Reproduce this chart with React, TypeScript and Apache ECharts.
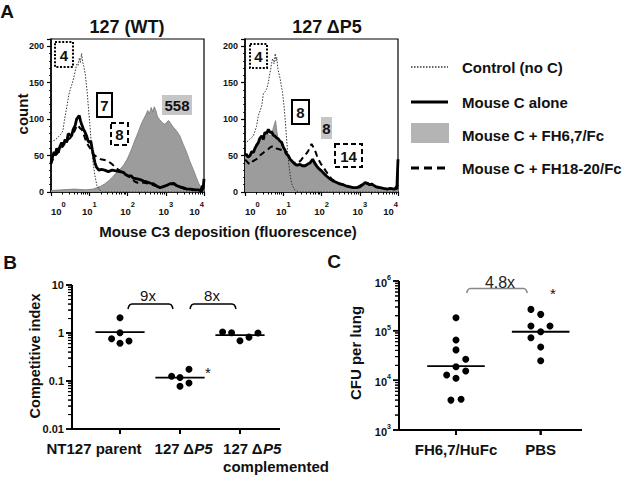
import React, { useEffect, useRef } from 'react';
import * as echarts from 'echarts';

const FONT = '"Liberation Sans", Arial, Helvetica, sans-serif';

// ---------- Panel A: flow histograms, [log10 fluorescence, count] ----------
const ctrlWT = [[0,68],[0.05,70],[0.12,72],[0.2,76],[0.27,80],[0.31,84],[0.35,98],[0.39,110],[0.43,122],[0.47,134],[0.51,142],[0.55,148],[0.6,158],[0.64,168],[0.68,176],[0.71,174],[0.74,184],[0.77,178],[0.8,190],[0.83,178],[0.86,172],[0.9,160],[0.94,140],[0.98,115],[1.02,90],[1.06,62],[1.1,40],[1.15,22],[1.2,9],[1.27,3],[1.35,0],[4,0]];
const aloneWT = [[0,40],[0.04,48],[0.08,55],[0.11,50],[0.15,60],[0.19,54],[0.23,62],[0.28,68],[0.32,64],[0.37,72],[0.41,68],[0.45,80],[0.5,78],[0.54,77],[0.58,86],[0.63,91],[0.67,100],[0.71,103],[0.74,105],[0.77,98],[0.8,93],[0.85,86],[0.89,82],[0.93,77],[0.97,70],[1.0,68],[1.04,70],[1.08,58],[1.11,50],[1.15,40],[1.19,34],[1.25,30],[1.32,31],[1.4,30],[1.5,28],[1.6,30],[1.7,29],[1.8,28],[1.89,27],[1.95,24],[2.02,22],[2.1,22],[2.15,19],[2.25,18],[2.33,17],[2.42,15],[2.5,14],[2.6,12],[2.68,11],[2.77,8],[2.85,6],[2.92,7],[3.02,9],[3.1,11],[3.2,12],[3.28,9],[3.37,7],[3.45,6],[3.55,4],[3.65,4],[3.75,3],[3.85,3],[3.94,1],[3.98,6],[4,18]];
const fh1820WT = [[0,38],[0.05,45],[0.1,50],[0.15,52],[0.2,55],[0.25,60],[0.3,62],[0.35,66],[0.4,68],[0.45,72],[0.5,74],[0.55,78],[0.6,82],[0.65,88],[0.7,92],[0.75,88],[0.8,86],[0.85,80],[0.9,72],[0.95,66],[1.0,62],[1.05,58],[1.1,52],[1.2,48],[1.3,45],[1.4,44],[1.5,42],[1.6,38],[1.7,33],[1.8,29],[1.9,26],[2.0,22],[2.1,19],[2.2,14],[2.3,12],[2.4,13],[2.5,12],[2.6,11],[2.7,9],[2.8,7],[2.9,7],[3.0,9],[3.1,10],[3.2,11],[3.3,8],[3.4,6],[3.5,4],[3.6,4],[3.7,3],[3.8,3],[3.9,2],[4,14]];
const fh67WT = [[0,2],[0.3,3],[0.6,4],[0.9,3],[1.1,4],[1.2,6],[1.3,8],[1.4,11],[1.5,15],[1.6,20],[1.7,26],[1.8,31],[1.9,37],[2.0,46],[2.1,58],[2.2,72],[2.28,82],[2.35,92],[2.42,100],[2.48,106],[2.53,112],[2.57,107],[2.62,116],[2.66,110],[2.7,117],[2.74,112],[2.78,104],[2.83,100],[2.88,97],[2.93,94],[2.98,93],[3.03,96],[3.08,98],[3.13,94],[3.2,89],[3.28,84],[3.37,77],[3.46,65],[3.55,54],[3.63,42],[3.72,31],[3.8,20],[3.86,12],[3.93,6],[4,4]];

const ctrlP5 = [[0,66],[0.03,68],[0.12,72],[0.22,77],[0.3,90],[0.35,105],[0.4,112],[0.44,119],[0.48,135],[0.53,138],[0.57,142],[0.61,150],[0.64,160],[0.67,168],[0.7,178],[0.72,183],[0.74,180],[0.76,176],[0.79,190],[0.81,180],[0.83,185],[0.86,169],[0.89,162],[0.92,155],[0.95,145],[0.98,137],[1.02,118],[1.05,100],[1.08,78],[1.11,58],[1.15,36],[1.19,20],[1.23,10],[1.3,3],[1.4,0],[4,0]];
const aloneP5 = [[0,50],[0.03,52],[0.08,48],[0.13,50],[0.18,56],[0.22,54],[0.26,60],[0.3,64],[0.35,68],[0.39,74],[0.44,77],[0.48,72],[0.52,82],[0.56,80],[0.61,86],[0.65,82],[0.7,82],[0.74,78],[0.78,77],[0.83,74],[0.87,73],[0.91,70],[0.96,68],[1.0,62],[1.05,57],[1.09,52],[1.13,50],[1.18,45],[1.22,43],[1.27,40],[1.31,38],[1.37,37],[1.44,38],[1.5,36],[1.57,36],[1.63,38],[1.7,40],[1.77,45],[1.82,40],[1.87,36],[1.93,32],[2.0,29],[2.07,25],[2.13,22],[2.22,18],[2.31,15],[2.4,13],[2.48,11],[2.57,10],[2.66,8],[2.75,7],[2.83,6],[2.92,6],[3.0,7],[3.08,10],[3.14,13],[3.2,12],[3.26,10],[3.31,11],[3.37,9],[3.44,7],[3.53,6],[3.62,5],[3.72,4],[3.8,5],[3.9,4],[3.97,5],[4,45]];
const fh67P5 = [[0,50],[0.05,47],[0.1,48],[0.15,52],[0.2,54],[0.25,57],[0.3,61],[0.35,65],[0.4,71],[0.45,73],[0.5,70],[0.55,77],[0.6,80],[0.65,77],[0.7,80],[0.75,90],[0.8,98],[0.83,84],[0.87,72],[0.92,68],[0.96,65],[1.0,60],[1.05,55],[1.1,50],[1.15,46],[1.2,42],[1.27,38],[1.35,35],[1.44,36],[1.5,34],[1.57,34],[1.63,36],[1.7,38],[1.77,41],[1.82,37],[1.9,30],[2.0,26],[2.1,20],[2.2,16],[2.31,13],[2.4,11],[2.5,9],[2.6,8],[2.7,6],[2.8,5],[2.9,5],[3.0,6],[3.08,9],[3.14,12],[3.2,11],[3.3,10],[3.4,7],[3.5,5],[3.6,4],[3.7,3],[3.8,4],[3.9,3],[4,4]];
const fh1820P5 = [[0,44],[0.03,43],[0.08,40],[0.13,38],[0.2,42],[0.3,45],[0.39,50],[0.48,54],[0.55,57],[0.61,59],[0.68,62],[0.74,63],[0.8,60],[0.87,59],[0.94,58],[1.0,57],[1.07,53],[1.13,50],[1.2,44],[1.26,40],[1.33,40],[1.39,40],[1.47,44],[1.55,50],[1.61,53],[1.66,57],[1.71,63],[1.74,66],[1.78,62],[1.83,57],[1.88,50],[1.92,45],[1.98,39],[2.05,34],[2.11,29],[2.18,24],[2.26,18],[2.35,15],[2.45,12],[2.55,10],[2.65,8],[2.75,7],[2.85,6],[2.95,7],[3.05,10],[3.12,12],[3.2,11],[3.3,10],[3.4,7],[3.5,6],[3.6,5],[3.7,4],[3.8,4],[3.9,4],[4,10]];

const panelATitles = ['127 (WT)', '127 \u0394P5'];
const legendNames = ['Control (no C)', 'Mouse C alone', 'Mouse C + FH6,7/Fc', 'Mouse C + FH18-20/Fc'];
// MFI boxes: [label, style]
const boxesWT = [['4', 'dotted'], ['7', 'solid'], ['558', 'gray'], ['8', 'dashed']];
const boxesP5 = [['4', 'dotted'], ['8', 'solid'], ['8', 'gray'], ['14', 'dashed']];

// ---------- Panel B: competitive index ----------
const bCategories = ['NT127 parent', '127 \u0394P5', '127 \u0394P5 complemented'];
const bParent = [2.07, 1.01, 0.76, 0.61, 0.68];
const bParentJitter = [0, 0, -0.14, 0, 0.15];
const bDelta = [0.126, 0.118, 0.176, 0.078, 0.091];
const bDeltaJitter = [-0.14, 0, 0.15, 0, 0.15];
const bComp = [1.05, 1.01, 0.69, 0.82, 1.0];
const bCompJitter = [-0.29, -0.14, 0, 0.15, 0.3];
const bMedians = [1.04, 0.118, 0.9];
const bFolds = ['9x', '8x'];

// ---------- Panel C: CFU per lung ----------
const cCategories = ['FH6,7/HuFc', 'PBS'];
const cFH = [182000, 65000, 41000, 26500, 18800, 12800, 15400, 11000, 4000, 4150];
const cFHJitter = [0, 0, 0, 0.115, 0, -0.11, 0.115, 0, -0.06, 0.06];
const cPBS = [268000, 213000, 124000, 124000, 95000, 72000, 47000, 24800];
const cPBSJitter = [-0.115, 0, -0.115, 0.11, 0, -0.115, 0, 0];
const cMedians = [19400, 95000];
const cFold = '4.8x';

const minorLog = (a: number, b: number) => {
  const out: number[] = [];
  for (let n = a; n < b; n++) for (let k = 2; k <= 9; k++) out.push(n + Math.log10(k));
  return out;
};
const majorLog = (a: number, b: number) => {
  const out: number[] = [];
  for (let n = a; n <= b; n++) out.push(n);
  return out;
};

const bracket = (x1: number, x2: number, top: number, end: number, dx: number, dy: number) => [
  [x1, end], [x1 + dx * 0.2, top - dy * 0.5], [x1 + dx * 0.5, top - dy * 0.15], [x1 + dx, top],
  [x2 - dx, top], [x2 - dx * 0.5, top - dy * 0.15], [x2 - dx * 0.2, top - dy * 0.5], [x2, end],
];

// Dot-plot frames: plot rects and axis extents
const frameB = { rect: [72, 285, 208, 144], x: [0.2, 3.667], y: [-2, 1], majors: majorLog(-2, 1), minors: minorLog(-2, 1), cats: [1, 2, 3] };
const frameC = { rect: [399, 281, 183, 149], x: [0.327, 2.488], y: [3, 6], majors: majorLog(3, 6), minors: minorLog(3, 6), cats: [1, 2] };
const PAD = 20;

function buildOption() {
  const bold = (size: number) => ({ fontFamily: FONT, fontWeight: 'bold' as const, fontSize: size, color: '#111' });
  const line = (w: number) => ({ show: true, onZero: false, lineStyle: { color: '#000', width: w } });

  const histGrid = (left: number) => ({ left, top: 39, width: 153, height: 153, show: true, borderColor: '#000', borderWidth: 1.2, backgroundColor: 'transparent' });

  const histX = (gi: number) => [
    {
      gridIndex: gi, type: 'value', min: 0, max: 4, interval: 1, position: 'bottom',
      axisLine: line(1.5),
      axisTick: { show: true, length: 4, lineStyle: { color: '#000', width: 1.2 } },
      splitLine: { show: false },
      axisLabel: {
        margin: 8, alignMinLabel: 'left', alignMaxLabel: 'right',
        formatter: (v: number) => `{b|10}{s|${Math.round(v)}}`,
        rich: {
          b: { ...bold(9.5), lineHeight: 16, verticalAlign: 'bottom' },
          s: { ...bold(7.5), lineHeight: 16, verticalAlign: 'top' },
        },
      },
    },
    {
      gridIndex: gi, type: 'value', min: 0, max: 4, position: 'bottom',
      axisLine: { show: false, onZero: false }, splitLine: { show: false }, axisLabel: { show: false },
      axisTick: { show: true, customValues: minorLog(0, 4), length: 2.5, lineStyle: { color: '#000', width: 1 } },
    },
  ];

  const histY = (gi: number) => ({
    gridIndex: gi, type: 'value', min: 0, max: 210, interval: 50,
    axisLine: line(1.5),
    axisTick: { show: true, length: 4, lineStyle: { color: '#000', width: 1.2 } },
    minorTick: { show: true, splitNumber: 5, length: 2, lineStyle: { color: '#000', width: 0.8 } },
    splitLine: { show: false },
    axisLabel: { ...bold(9), margin: 7, showMaxLabel: false },
  });

  const histSeries = (gi: number, gray: number[][], ctrl: number[][], dashed: number[][], solid: number[][]) => {
    const ax = { xAxisIndex: gi * 2, yAxisIndex: gi };
    return [
      { type: 'line', name: legendNames[2], ...ax, data: gray, symbol: 'none', lineStyle: { color: '#7a7a7a', width: 0.8 }, areaStyle: { color: '#9c9c9c', opacity: 1 }, z: 2 },
      { type: 'line', name: legendNames[0], ...ax, data: ctrl, symbol: 'none', lineStyle: { color: '#333', width: 1, type: [1.5, 1.5] }, z: 3 },
      { type: 'line', name: legendNames[3], ...ax, data: dashed, symbol: 'none', lineStyle: { color: '#000', width: 2, type: [6, 4] }, z: 4 },
      { type: 'line', name: legendNames[1], ...ax, data: solid, symbol: 'none', lineStyle: { color: '#000', width: 2.8 }, z: 5 },
    ];
  };

  const dot = { color: '#000', opacity: 1 };

  // B
  const bGroups = [[bParent, bParentJitter], [bDelta, bDeltaJitter], [bComp, bCompJitter]];
  const bSeries: any[] = [];
  bGroups.forEach(([vals, jit], i) => {
    const c = i + 1;
    bSeries.push({ type: 'scatter', xAxisIndex: 4, yAxisIndex: 2, symbolSize: 7, itemStyle: dot, data: (vals as number[]).map((v, j) => [c + (jit as number[])[j], Math.log10(v)]), z: 5 });
    bSeries.push({ type: 'line', xAxisIndex: 4, yAxisIndex: 2, symbol: 'none', lineStyle: { color: '#000', width: 1.8 }, data: [[c - 0.41, Math.log10(bMedians[i])], [c + 0.41, Math.log10(bMedians[i])]], z: 4 });
  });
  [[1.133, 1.883], [2.167, 2.933]].forEach(([x1, x2]) => {
    bSeries.push({ type: 'line', xAxisIndex: 4, yAxisIndex: 2, symbol: 'none', lineStyle: { color: '#000', width: 1.5 }, data: bracket(x1, x2, Math.log10(4), Math.log10(3.16), 0.06, 0.1), z: 4 });
  });

  // C
  const cGroups = [[cFH, cFHJitter], [cPBS, cPBSJitter]];
  const cSeries: any[] = [];
  cGroups.forEach(([vals, jit], i) => {
    const c = i + 1;
    cSeries.push({ type: 'scatter', xAxisIndex: 5, yAxisIndex: 4, symbolSize: 7, itemStyle: dot, data: (vals as number[]).map((v, j) => [c + (jit as number[])[j], Math.log10(v)]), z: 5 });
    cSeries.push({ type: 'line', xAxisIndex: 5, yAxisIndex: 4, symbol: 'none', lineStyle: { color: '#000', width: 1.8 }, data: [[c - 0.34, Math.log10(cMedians[i])], [c + 0.34, Math.log10(cMedians[i])]], z: 4 });
  });
  cSeries.push({ type: 'line', xAxisIndex: 5, yAxisIndex: 4, symbol: 'none', lineStyle: { color: '#888', width: 1.5 }, data: bracket(1.126, 1.842, 5.851, 5.757, 0.045, 0.095), z: 4 });

  // Frame grids: a padded copy of each dot-plot grid with the same scale, so the
  // axis frame and ticks lie inside its plotting area.
  const padded = (f: typeof frameB) => {
    const [gl, gt, gw, gh] = f.rect;
    const ux = (f.x[1] - f.x[0]) / gw;
    const uy = (f.y[1] - f.y[0]) / gh;
    return {
      grid: { left: gl - PAD, top: gt - PAD, width: gw + 2 * PAD, height: gh + 2 * PAD },
      xr: [f.x[0] - PAD * ux, f.x[1] + PAD * ux],
      yr: [f.y[0] - PAD * uy, f.y[1] + PAD * uy],
      ux, uy,
    };
  };
  const pB = padded(frameB);
  const pC = padded(frameC);
  const frameGridSeries = (f: typeof frameB, p: ReturnType<typeof padded>, xi: number, yi: number) => {
    const common = { type: 'line', xAxisIndex: xi, yAxisIndex: yi, symbol: 'none', silent: true, z: 6 };
    const segs = (pairs: number[][][]) => {
      const out: any[] = [];
      pairs.forEach((pp) => { out.push(pp[0], pp[1], '-'); });
      return out;
    };
    const x0 = f.x[0];
    const y0 = f.y[0];
    return [
      { ...common, lineStyle: { color: '#000', width: 2 }, data: [[x0, f.y[1]], [x0, y0], [f.x[1], y0]] },
      { ...common, lineStyle: { color: '#000', width: 1.5 }, data: segs(f.majors.map((v) => [[x0, v], [x0 - 6 * p.ux, v]])) },
      { ...common, lineStyle: { color: '#000', width: 1 }, data: segs(f.minors.map((v) => [[x0, v], [x0 - 4 * p.ux, v]])) },
      { ...common, lineStyle: { color: '#000', width: 2 }, data: segs(f.cats.map((v) => [[v, y0], [v, y0 - 5 * p.uy]])) },
    ];
  };

  const supRich = {
    b: { ...bold(11), lineHeight: 14, verticalAlign: 'bottom' },
    s: { ...bold(7), lineHeight: 14, verticalAlign: 'top' },
  };

  const catRich = {
    b: { ...bold(15), lineHeight: 18 },
    i: { ...bold(15), fontStyle: 'italic', lineHeight: 18 },
    l: { ...bold(15), lineHeight: 18, align: 'left' },
    li: { ...bold(15), fontStyle: 'italic', lineHeight: 18, align: 'left' },
  };

  const t = (text: string, x: number, y: number, font: string, extra: any = {}) => ({
    type: 'text', x, y, ...(extra.rotation ? { rotation: extra.rotation } : {}),
    style: { text, font, fill: extra.fill || '#111', textAlign: extra.align || 'center', textVerticalAlign: 'middle' },
    z: 100,
  });
  const B = (s: number) => `bold ${s}px ${FONT}`;
  const R = (s: number) => `${s}px ${FONT}`;

  const boxStyle = (kind: string) => {
    if (kind === 'gray') return { fill: '#c6c6c6', stroke: null, lineWidth: 0 };
    const base: any = { fill: '#fff', stroke: '#000', lineWidth: 2 };
    if (kind === 'dotted') base.lineDash = [2, 1.6];
    if (kind === 'dashed') base.lineDash = [5, 3];
    return base;
  };
  const boxRectsWT = [[55, 42, 18, 25], [97, 93, 15, 24], [162, 95, 30, 20], [111, 123, 17, 22]];
  const boxRectsP5 = [[250, 44, 17, 24], [292, 100, 17, 24], [321, 117, 11, 22], [335, 144, 27, 23]];
  const boxEls: any[] = [];
  [[boxesWT, boxRectsWT], [boxesP5, boxRectsP5]].forEach(([boxes, rects]) => {
    (boxes as string[][]).forEach(([label, kind], i) => {
      const [x, y, w, h] = (rects as number[][])[i];
      boxEls.push({ type: 'rect', shape: { x, y, width: w, height: h }, style: boxStyle(kind), z: 90 });
      boxEls.push(t(label, x + w / 2, y + h / 2 + 0.5, B(15)));
    });
  });

  // Graphic copy of the dot-plot frames (same geometry as the frame-grid series).
  const frameGraphics = (f: typeof frameB) => {
    const [gl, gt, gw, gh] = f.rect;
    const px = (x: number) => gl + (x - f.x[0]) / (f.x[1] - f.x[0]) * gw;
    const py = (y: number) => gt + gh - (y - f.y[0]) / (f.y[1] - f.y[0]) * gh;
    const x0 = gl;
    const y0 = gt + gh;
    const els: any[] = [
      { type: 'line', shape: { x1: x0, y1: gt, x2: x0, y2: y0 }, style: { stroke: '#000', lineWidth: 2 }, z: 100 },
      { type: 'line', shape: { x1: x0, y1: y0, x2: gl + gw, y2: y0 }, style: { stroke: '#000', lineWidth: 2 }, z: 100 },
    ];
    f.majors.forEach((v) => els.push({ type: 'line', shape: { x1: x0 - 6, y1: py(v), x2: x0, y2: py(v) }, style: { stroke: '#000', lineWidth: 1.5 }, z: 100 }));
    f.minors.forEach((v) => els.push({ type: 'line', shape: { x1: x0 - 4, y1: py(v), x2: x0, y2: py(v) }, style: { stroke: '#000', lineWidth: 1 }, z: 100 }));
    f.cats.forEach((v) => els.push({ type: 'line', shape: { x1: px(v), y1: y0, x2: px(v), y2: y0 + 5 }, style: { stroke: '#000', lineWidth: 2 }, z: 100 }));
    return els;
  };

  const legendEls: any[] = [
    { type: 'line', shape: { x1: 411, y1: 67, x2: 448, y2: 67 }, style: { stroke: '#333', lineWidth: 1.3, lineDash: [1.5, 1.5] }, z: 90 },
    { type: 'line', shape: { x1: 411, y1: 102, x2: 448, y2: 102 }, style: { stroke: '#000', lineWidth: 3 }, z: 90 },
    { type: 'rect', shape: { x: 411, y: 123, width: 38, height: 20 }, style: { fill: '#b4b4b4' }, z: 90 },
    { type: 'line', shape: { x1: 411, y1: 168, x2: 448, y2: 168 }, style: { stroke: '#000', lineWidth: 3, lineDash: [8, 5] }, z: 90 },
    t(legendNames[0], 462, 67, B(15), { align: 'left' }),
    t(legendNames[1], 462, 102, B(15), { align: 'left' }),
    t(legendNames[2], 462, 135, B(15), { align: 'left' }),
    t(legendNames[3], 462, 168, B(15), { align: 'left' }),
  ];

  const graphics: any[] = [
    t('A', 7, 11, B(19)),
    t('B', 10, 262, B(19)),
    t('C', 334, 261, B(19)),
    t(panelATitles[0], 127, 27, B(18)),
    t(panelATitles[1], 327, 27, B(18)),
    t('count', 22, 114, B(15), { rotation: Math.PI / 2 }),
    t('Mouse C3 deposition (fluorescence)', 228, 231, B(15)),
    t('Competitive index', 35, 356, B(14.5), { rotation: Math.PI / 2 }),
    t('CFU per lung', 355, 353, B(15), { rotation: Math.PI / 2 }),
    t(bFolds[0], 148, 295, R(15)),
    t(bFolds[1], 212, 295, R(15)),
    t('*', 208, 372, R(15)),
    t(cFold, 500, 282, R(16), { fill: '#222' }),
    t('*', 553, 293, R(15)),
    ...boxEls,
    ...legendEls,
    ...frameGraphics(frameB),
    ...frameGraphics(frameC),
  ];

  const hidden = { show: false, onZero: false };
  const ghostAxis = (gi: number, r: number[]) => ({
    gridIndex: gi, type: 'value', min: r[0], max: r[1], show: false,
    axisLine: hidden, axisTick: { show: false }, axisLabel: { show: false }, splitLine: { show: false },
  });

  return {
    animation: false,
    backgroundColor: '#fff',
    textStyle: { fontFamily: FONT },
    grid: [
      histGrid(51),
      histGrid(245),
      { left: frameB.rect[0], top: frameB.rect[1], width: frameB.rect[2], height: frameB.rect[3] },
      { left: frameC.rect[0], top: frameC.rect[1], width: frameC.rect[2], height: frameC.rect[3] },
      pB.grid,
      pC.grid,
    ],
    xAxis: [
      ...histX(0),
      ...histX(1),
      {
        gridIndex: 2, type: 'value', min: frameB.x[0], max: frameB.x[1], position: 'bottom',
        axisLine: hidden, axisTick: { show: false }, splitLine: { show: false },
        axisLabel: {
          customValues: [0.567, 2.058, 3.6], margin: 10,
          formatter: (v: number) => v < 1.5 ? `{b|${bCategories[0]}}` : v < 2.8 ? '{b|127 \u0394}{i|P5}' : '{l|127 \u0394}{li|P5}\n{l|complemented}',
          rich: catRich,
        },
      },
      {
        gridIndex: 3, type: 'value', min: frameC.x[0], max: frameC.x[1], position: 'bottom',
        axisLine: hidden, axisTick: { show: false }, splitLine: { show: false },
        axisLabel: {
          customValues: [1, 2], margin: 10,
          formatter: (v: number) => `{b|${v < 1.5 ? cCategories[0] : cCategories[1]}}`,
          rich: catRich,
        },
      },
      ghostAxis(4, pB.xr),
      ghostAxis(5, pC.xr),
    ],
    yAxis: [
      histY(0),
      histY(1),
      {
        gridIndex: 2, type: 'value', min: frameB.y[0], max: frameB.y[1], interval: 1, position: 'left',
        axisLine: hidden, axisTick: { show: false }, splitLine: { show: false },
        axisLabel: { ...bold(11), margin: 8, formatter: (v: number) => String(Number(Math.pow(10, v).toPrecision(1))) },
      },
      {
        gridIndex: 2, type: 'value', min: frameB.y[0], max: frameB.y[1], position: 'left', show: false,
        axisLine: hidden, splitLine: { show: false }, axisLabel: { show: false }, axisTick: { show: false },
      },
      {
        gridIndex: 3, type: 'value', min: frameC.y[0], max: frameC.y[1], interval: 1, position: 'left',
        axisLine: hidden, axisTick: { show: false }, splitLine: { show: false },
        axisLabel: { margin: 8, formatter: (v: number) => `{b|10}{s|${Math.round(v)}}`, rich: supRich },
      },
      {
        gridIndex: 3, type: 'value', min: frameC.y[0], max: frameC.y[1], position: 'left', show: false,
        axisLine: hidden, splitLine: { show: false }, axisLabel: { show: false }, axisTick: { show: false },
      },
      ghostAxis(4, pB.yr),
      ghostAxis(5, pC.yr),
    ],
    series: [
      ...histSeries(0, fh67WT, ctrlWT, fh1820WT, aloneWT),
      ...histSeries(1, fh67P5, ctrlP5, fh1820P5, aloneP5),
      ...bSeries,
      ...cSeries,
      ...frameGridSeries(frameB, pB, 6, 6),
      ...frameGridSeries(frameC, pC, 7, 7),
    ],
    graphic: { elements: graphics },
  };
}

export default function App() {
  const ref = useRef<HTMLDivElement>(null);
  useEffect(() => {
    if (!ref.current) return;
    const chart = echarts.init(ref.current, null, { renderer: 'svg' });
    chart.setOption(buildOption() as any);
    return () => chart.dispose();
  }, []);
  return <div ref={ref} style={{ position: 'fixed', left: 0, top: 0, width: 630, height: 481, background: '#fff' }} />;
}
